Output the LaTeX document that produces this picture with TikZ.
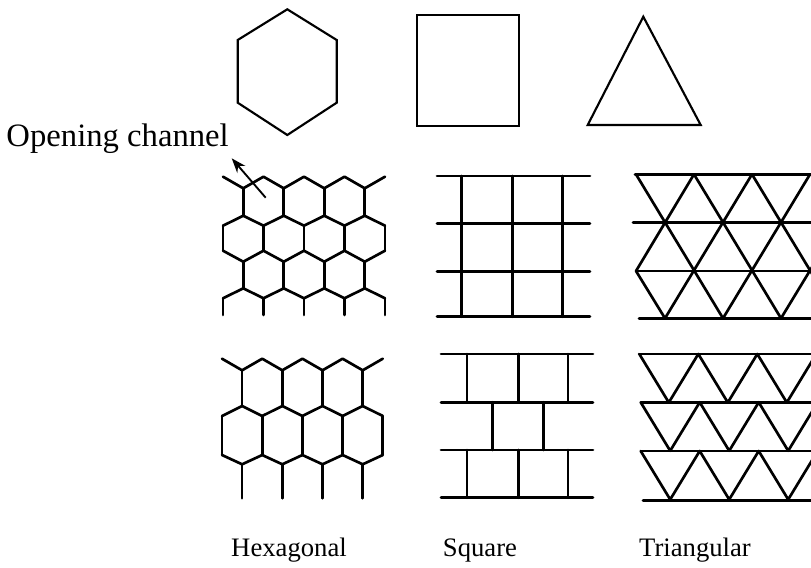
\documentclass[tikz,border=0pt]{standalone}
\usepackage{fontspec}
\setmainfont{Liberation Serif}
\usetikzlibrary{arrows.meta,positioning}

\begin{document}
\begin{tikzpicture}[
    x=0.75pt, y=-0.75pt,
    cell/.style={line width=1.6pt, line join=miter},
    wall/.style={line width=2pt, line cap=round, line join=round},
    caption/.style={font=\fontsize{20}{24}\selectfont, inner sep=0pt, anchor=base},
    arrow/.style={-{Stealth[length=11pt,width=8pt]}, line width=1.4pt}
]
\clip (0,0) rectangle (811,568);

% Unit cells
\draw[cell] (287.3,9.3) -- (336.7,40) -- (336.7,102.7) -- (287.3,135) -- (237.7,102.7) -- (237.7,40) -- cycle;
\draw[cell] (416.7,15) rectangle (519.3,126);
\draw[cell] (643.3,16.7) -- (700.7,125) -- (587.7,125) -- cycle;

% Hexagonal channels, regular
\foreach \ya/\yb in {176.7/188.3, 225.7/215.7, 250.7/261.7, 298.3/288.3}
  \draw[wall] (223,\ya) \foreach \i in {1,...,4}{ -- ++(20.25,\yb-\ya) -- ++(20.25,\ya-\yb) };
\foreach \k in {1,3,5,7} {
  \draw[wall] (223+\k*20.25,188.3) -- ++(0,27.4);
  \draw[wall] (223+\k*20.25,261.7) -- ++(0,26.6);
}
\foreach \k in {0,2,...,8} {
  \draw[wall] (223+\k*20.25,225.7) -- ++(0,25);
  \draw[wall] (223+\k*20.25,298.3) -- ++(0,16.7);
}

% Hexagonal channels, elongated
\foreach \ya/\yb in {358.7/370.3, 416/406, 455/464.3}
  \draw[wall] (222,\ya) \foreach \i in {1,...,4}{ -- ++(20.1,\yb-\ya) -- ++(20.1,\ya-\yb) };
\foreach \k in {1,3,5,7} {
  \draw[wall] (222+\k*20.1,370.3) -- ++(0,35.7);
  \draw[wall] (222+\k*20.1,464.3) -- ++(0,34);
}
\foreach \k in {0,2,...,8}
  \draw[wall] (222+\k*20.1,416) -- ++(0,39);

% Square channels, aligned
\foreach \y in {176,223.3,271.7,316.7}
  \draw[wall] (437,\y) -- (590,\y);
\foreach \x in {461.7,512.7,562.7}
  \draw[wall] (\x,176) -- (\x,316.7);

% Square channels, staggered
\foreach \y in {354,402.3,450,497.7}
  \draw[wall] (441,\y) -- (593,\y);
\foreach \x in {467,518.5,568} {
  \draw[wall] (\x,354) -- (\x,402.3);
  \draw[wall] (\x,450) -- (\x,497.7);
}
\foreach \x in {492.7,543.3}
  \draw[wall] (\x,402.3) -- (\x,450);

% Triangular channels, full lattice
\foreach \x/\y in {635/174.3, 633/222.7, 637/271, 639/318.3}
  \draw[wall] (\x,\y) -- (820,\y);
\foreach \xa/\ya/\xb/\yb in {636/174.3/723/318.3, 694/174.3/781/318.3, 752/174.3/839/318.3, 636/271/665/318.3,
    665/318.3/752/174.3, 723/318.3/810/174.3, 781/318.3/839/222.7, 636/271/694/174.3}
  \draw[wall] (\xa,\ya) -- (\xb,\yb);

% Triangular channels, rows
\foreach \x/\y in {639/354, 641/402.3, 641/451, 643/500.7}
  \draw[wall] (\x,\y) -- (820,\y);
\foreach \x/\y in {639.3/354, 640.7/402.3, 640.7/451}
  \draw[wall] (\x,\y) \foreach \i in {1,...,4}{ -- ++(29.5,48.5) -- ++(29.5,-48.5) };

% Labels
\node[caption] (hex) at (289,556) {Hexagonal};
\node[caption] (sq) at (480,556) {Square};
\node[caption] (tri) at (695,556) {Triangular};
\node[caption, anchor=base east, font=\fontsize{24.5}{29}\selectfont] (open) at (229,146) {Opening channel};

% Opening channel arrow
\coordinate (chan) at (265.7,197.7);
\coordinate (chanend) at (231.7,158.3);
\draw[arrow] (chan) -- (chanend);

\end{tikzpicture}
\end{document}
